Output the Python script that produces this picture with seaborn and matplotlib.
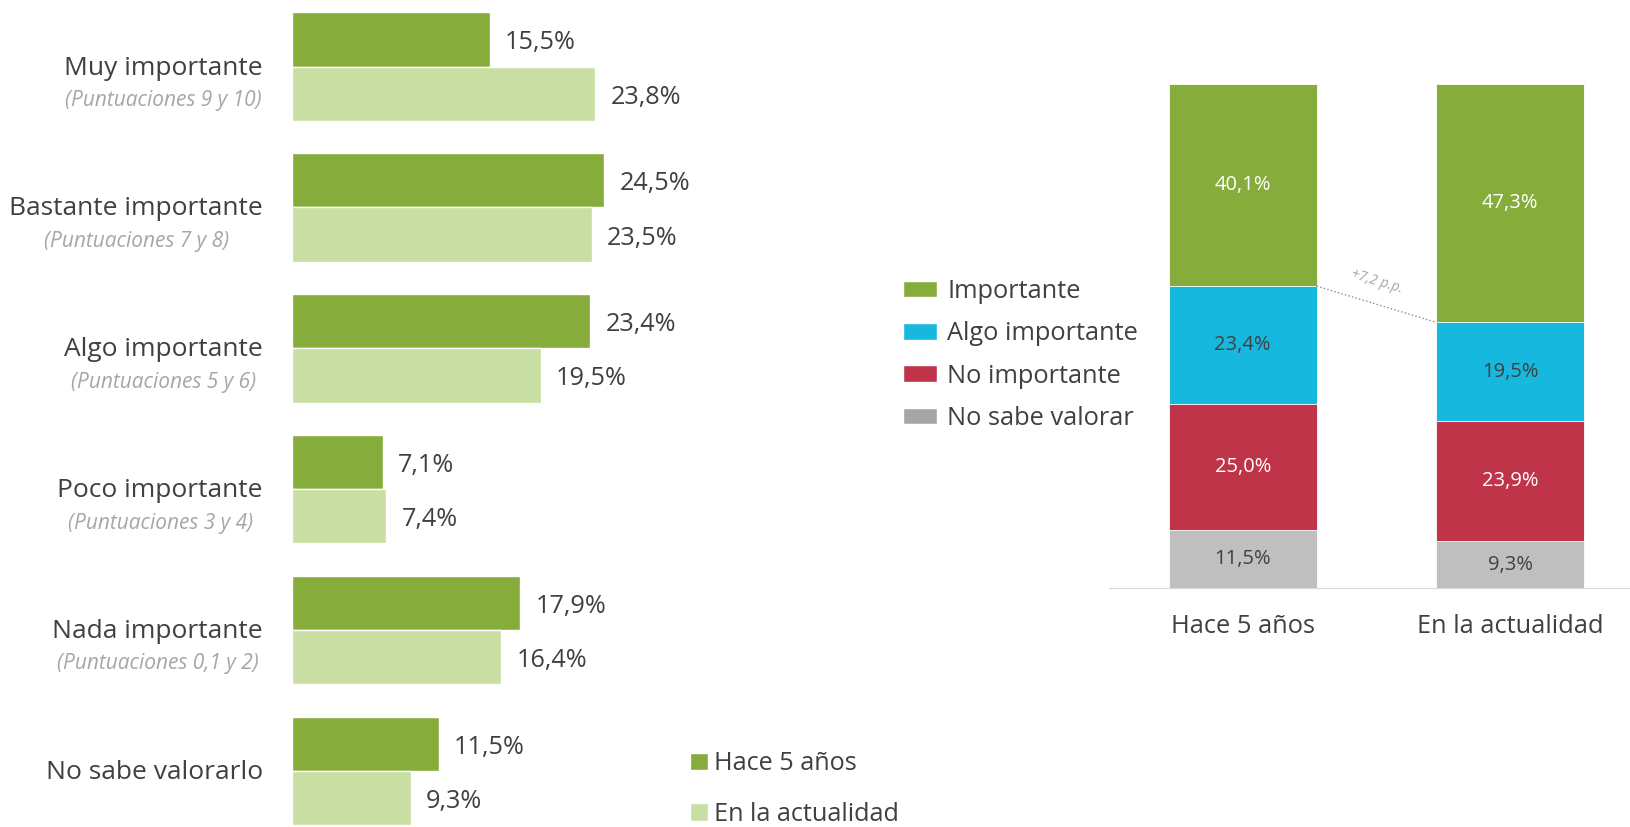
import numpy as np
import pandas as pd
import matplotlib
matplotlib.use("Agg")
import matplotlib.pyplot as plt
import matplotlib.transforms as mtransforms
from matplotlib.patches import Patch
import seaborn as sns

# datos grafico izquierdo
categorias = ["Muy importante", "Bastante importante", "Algo importante",
              "Poco importante", "Nada importante", "No sabe valorarlo"]
subtitulos = ["(Puntuaciones 9 y 10)", "(Puntuaciones 7 y 8)", "(Puntuaciones 5 y 6)",
              "(Puntuaciones 3 y 4)", "(Puntuaciones 0,1 y 2)", ""]
hace_5 = [15.5, 24.5, 23.4, 7.1, 17.9, 11.5]
actualidad = [23.8, 23.5, 19.5, 7.4, 16.4, 9.3]
periodos = ["Hace 5 años", "En la actualidad"]

# datos grafico derecho (apilado)
niveles = ["Importante", "Algo importante", "No importante", "No sabe valorar"]
importante = [40.1, 47.3]
algo_imp = [23.4, 19.5]
no_imp = [25.0, 23.9]
no_sabe = [11.5, 9.3]
diferencia = "+7,2 p.p."

verde = "#86ac3c"
verde_claro = "#c8dea2"
azul = "#17b8de"
rojo = "#c0344a"
gris = "#bfbfbf"
gris_ley = "#a6a6a6"
texto = "#404040"

sns.set_style("white")
plt.rcParams['font.family'] = ['Open Sans', 'DejaVu Sans']

W, H = 1631, 827
fig = plt.figure(figsize=(W / 100, H / 100), dpi=100)

def fmt(v):
    return f"{v:.1f}".replace(".", ",") + "%"

# ---- grafico izquierdo
df = pd.DataFrame({
    "cat": categorias * 2,
    "valor": hace_5 + actualidad,
    "periodo": [periodos[0]] * len(categorias) + [periodos[1]] * len(categorias),
})
ax1 = fig.add_axes([292 / W, 1 - 841.4 / H, 510 / W, 845.2 / H])
sns.barplot(data=df, y="cat", x="valor", hue="periodo", orient="h",
            palette=[verde, verde_claro], width=0.77, saturation=1,
            errorbar=None, legend=False, ax=ax1)
ax1.set_xlim(0, 40)
ax1.set_ylim(len(categorias) - 0.5, -0.5)
ax1.axis("off")
for cont, vals in zip(ax1.containers, [hace_5, actualidad]):
    etiquetas = ax1.bar_label(cont, labels=[fmt(v) for v in vals], padding=11,
                              fontsize=18.2, color=texto)
    for e in etiquetas:
        e.xyann = (11, -2.5)

trans = mtransforms.blended_transform_factory(fig.transFigure, ax1.transData)
mains = []
for i, cat in enumerate(categorias):
    t = ax1.text(263 / W, i + 0.01, cat, transform=trans, ha="right", va="center",
                 fontsize=19, color=texto)
    mains.append(t)

fig.canvas.draw()
r = fig.canvas.get_renderer()
for i, (t, sub) in enumerate(zip(mains, subtitulos)):
    if not sub:
        continue
    bb = t.get_window_extent(r)
    cx = (bb.x0 + bb.x1) / 2 / fig.bbox.width
    ax1.text(cx, i + 0.24, sub, transform=trans, ha="center", va="center",
             fontsize=15, style="italic", color=gris_ley)

ley1 = [Patch(facecolor=verde, label=periodos[0]),
        Patch(facecolor=verde_claro, label=periodos[1])]
fig.legend(handles=ley1, loc="center left", bbox_to_anchor=(690 / W, 1 - 789 / H),
           frameon=False, fontsize=18.2, handlelength=0.7, handleheight=0.7,
           handletextpad=0.25, labelspacing=1.0, borderpad=0, borderaxespad=0,
           labelcolor=texto)

# ---- grafico derecho
ax2 = fig.add_axes([1109 / W, 1 - 588 / H, 535 / W, 504 / H])
capas = [importante, algo_imp, no_imp, no_sabe]
colores = [verde, azul, rojo, gris]
acum = np.cumsum(np.array(capas[::-1]), axis=0)[::-1]
ancho = 0.553
for tot, c in zip(acum, colores):
    sns.barplot(x=periodos, y=tot, color=c, width=ancho, saturation=1,
                edgecolor="white", linewidth=0.6, ax=ax2)

col_txt = ["white", texto, "white", texto]
for k, (vals, tot) in enumerate(zip(capas, acum)):
    for j in range(len(periodos)):
        ax2.text(j, tot[j] - vals[j] / 2, fmt(vals[j]), ha="center", va="center",
                 fontsize=14.5, color=col_txt[k])

ax2.plot([ancho / 2, 1 - ancho / 2], [acum[1][0], acum[1][1]], ls=":",
         color="#8c8c8c", lw=1)
ax2.text(0.5, (acum[1][0] + acum[1][1]) / 2 + 4.4, diferencia, ha="center",
         va="center", rotation=-17, fontsize=10, style="italic", color="#a6a6a6")

ax2.set_xlim(-0.5, 1.5)
ax2.set_ylim(0, 100)
for s in ["top", "right", "left"]:
    ax2.spines[s].set_visible(False)
ax2.spines["bottom"].set_color("#d9d9d9")
ax2.set_yticks([])
ax2.set_xticks([0, 1])
ax2.set_xticklabels(periodos, fontsize=18.3, color=texto)
ax2.tick_params(axis="x", which="major", length=0, pad=19)
ax2.set_xticks([-0.5, 0.5, 1.5], minor=True)
ax2.tick_params(axis="x", which="minor", direction="in", length=6,
                color="#d9d9d9", width=1)
ax2.set_xlabel("")
ax2.set_ylabel("")

ley2 = [Patch(facecolor=c, label=n) for c, n in
        zip([verde, azul, rojo, gris_ley], niveles)]
fig.legend(handles=ley2, loc="center left", bbox_to_anchor=(903 / W, 1 - 355 / H),
           frameon=False, fontsize=18.3, handlelength=1.35, handleheight=0.62,
           handletextpad=0.4, labelspacing=0.68, borderpad=0, borderaxespad=0,
           labelcolor=texto)

fig.savefig("out.png", dpi=100)
